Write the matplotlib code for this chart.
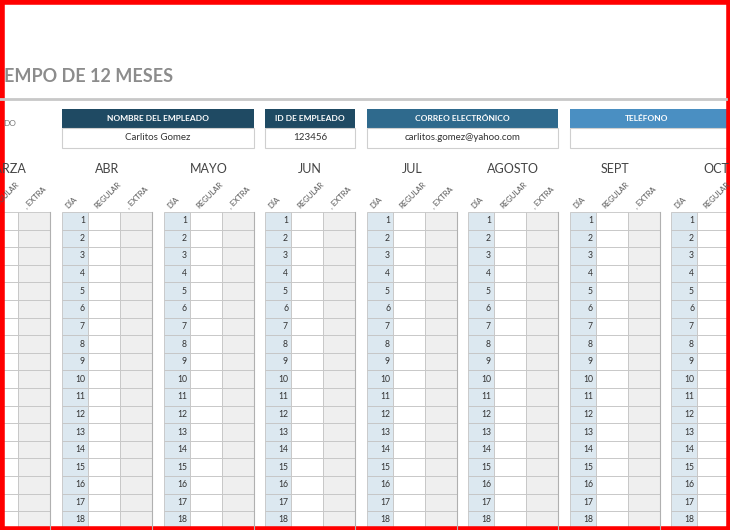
import matplotlib
matplotlib.use("Agg")
import matplotlib.pyplot as plt
from matplotlib.patches import Rectangle

months = ["MARZA", "ABR", "MAYO", "JUN", "JUL", "AGOSTO", "SEPT", "OCT"]
month_x = [-40, 62, 164, 265, 367, 468, 570, 671]
days = list(range(1, 19))
col_labels = ["DÍA", "REGULAR", ", EXTRA"]
header_titles = ["NOMBRE DEL EMPLEADO", "ID DE EMPLEADO", "CORREO ELECTRÓNICO", "TELÉFONO"]
header_values = ["Carlitos Gomez", "123456", "carlitos.gomez@yahoo.com", ""]
header_x = [(62, 254), (265, 355), (367, 558), (570, 740)]
header_colors = ["#1f4a63", "#1f4a63", "#2f6a8d", "#4a8fc2"]

fig = plt.figure(figsize=(7.3, 5.3), dpi=100)
ax = fig.add_axes([0, 0, 1, 1])
ax.set_xlim(0, 730); ax.set_ylim(530, 0); ax.axis("off")
fnt = ["Lato", "DejaVu Sans"]

ax.text(4, 76, "EMPO DE 12 MESES", fontsize=13, fontweight="bold", color="#8c8c8c", va="center", family=fnt)
ax.plot([0, 726], [99, 99], color="#c8c8c8", lw=2)
ax.text(3, 124, "DO", fontsize=6, color="#777", va="center", family=fnt)

for (x0, x1), t, v, c in zip(header_x, header_titles, header_values, header_colors):
    ax.add_patch(Rectangle((x0, 109), x1 - x0, 19, fc=c, ec="none"))
    ax.add_patch(Rectangle((x0, 128), x1 - x0, 20, fc="white", ec="#cfcfcf", lw=0.8))
    cx = (x0 + x1) / 2 if x1 < 730 else 647
    ax.text(cx, 118.5, t, fontsize=6, color="white", fontweight="bold", ha="center", va="center", family=fnt)
    ax.text(cx, 138, v, fontsize=7, color="#333", ha="center", va="center", family=fnt)

row_top, rh = 212, 17.6
col_w = [26, 32, 32]
col_c = ["#dce8f0", "white", "#efefef"]
for m, mx in zip(months, month_x):
    ax.text(mx + 45, 169, m, fontsize=9, color="#444", ha="center", va="center", family=fnt)
    cx = mx
    for lab, w in zip(col_labels, col_w):
        ax.text(cx + w / 2 - 6, 210, lab, fontsize=5.5, color="#555", rotation=45, ha="left", va="bottom", family=fnt, rotation_mode="anchor")
        cx += w
    for d in days:
        y = row_top + (d - 1) * rh
        cx = mx
        for w, c in zip(col_w, col_c):
            ax.add_patch(Rectangle((cx, y), w, rh, fc=c, ec="#c4c4c4", lw=0.6))
            cx += w
        ax.text(mx + col_w[0] - 3, y + rh / 2, str(d), fontsize=6.2, color="#333", ha="right", va="center", family=fnt)
    ax.plot([mx + sum(col_w)] * 2, [row_top, 530], color="#b0b0b0", lw=0.8)

ax.add_patch(Rectangle((1.5, 1.5), 727, 527, fill=False, ec="#ff0000", lw=4))
fig.savefig("out.png", dpi=100)
